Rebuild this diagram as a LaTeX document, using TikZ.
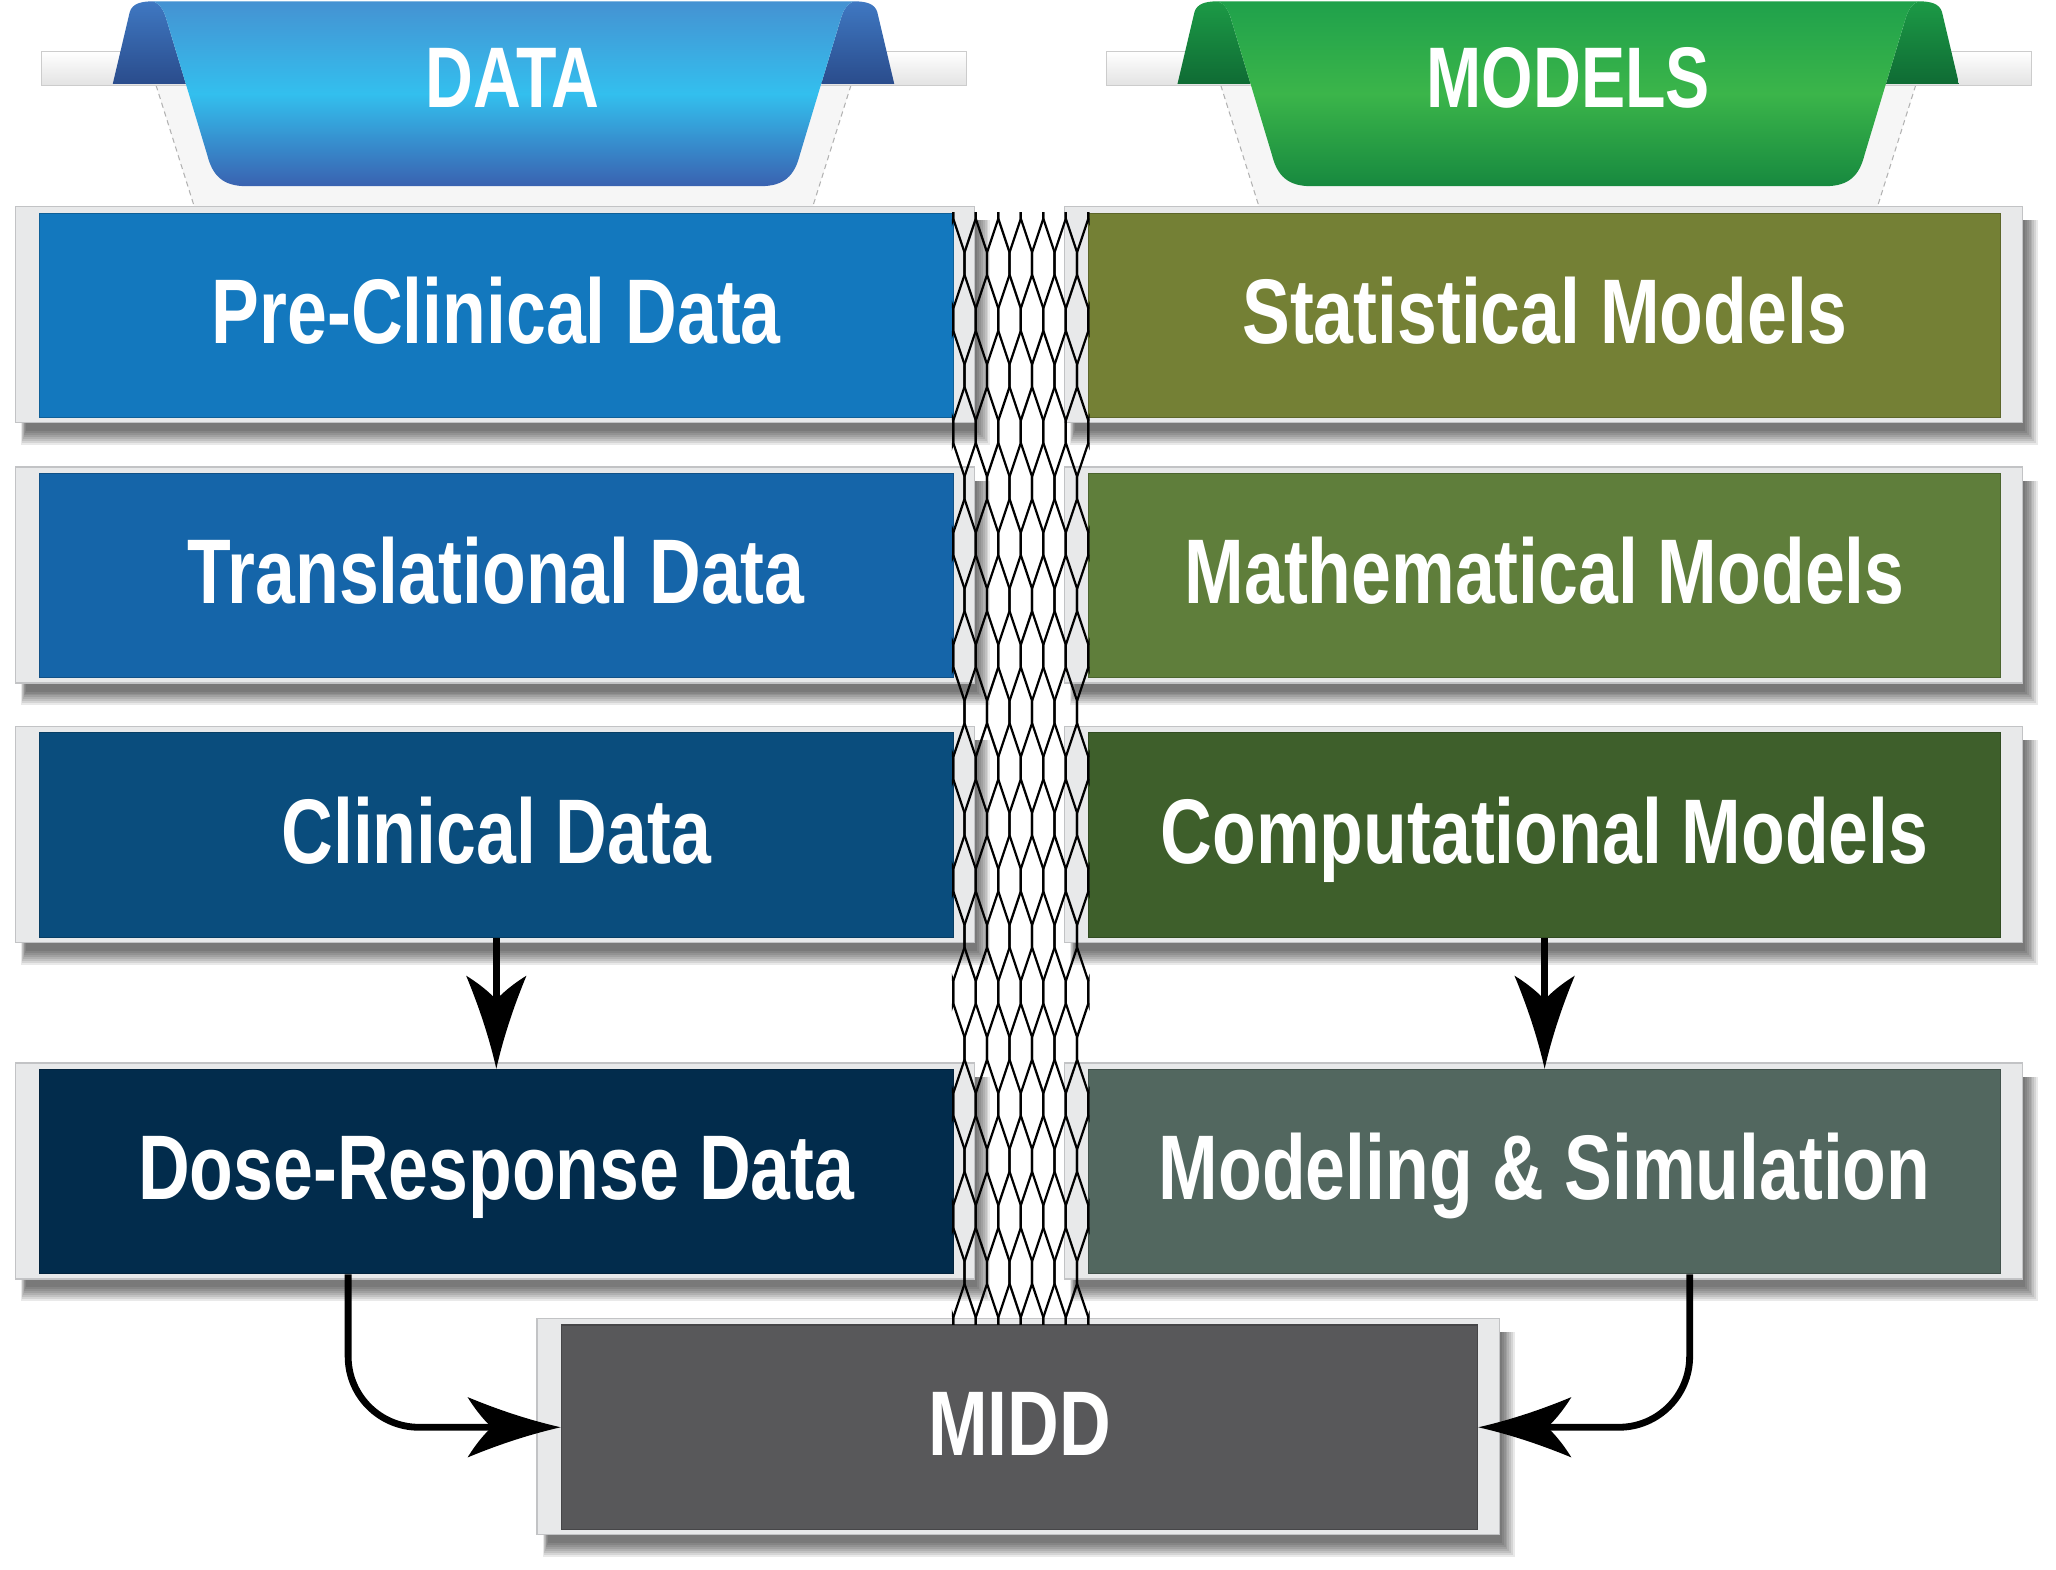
\documentclass[tikz,border=0pt]{standalone}
\usepackage{fontspec}
\newfontfamily\condfont[FakeStretch=0.78]{Liberation Sans}
\newfontfamily\bannerfont[FakeStretch=0.77]{Liberation Sans}
\usetikzlibrary{arrows.meta}
\pgfdeclarelayer{bglayer}
\pgfdeclarelayer{shadowlayer}
\pgfdeclarelayer{framelayer}
\pgfsetlayers{bglayer,shadowlayer,framelayer,main}

\definecolor{c1}{HTML}{1378BE}
\definecolor{c2}{HTML}{1565A9}
\definecolor{c3}{HTML}{0A4D7D}
\definecolor{c4}{HTML}{022C4C}
\definecolor{c5}{HTML}{748035}
\definecolor{c6}{HTML}{5F7E3B}
\definecolor{c7}{HTML}{3E5F2B}
\definecolor{c8}{HTML}{52675F}
\definecolor{cm}{HTML}{58585A}
\definecolor{framefill}{HTML}{E8E9EA}
\definecolor{frameline}{HTML}{C2C3C5}
\definecolor{bT}{HTML}{4592D2}
\definecolor{bM}{HTML}{33BFEE}
\definecolor{bB}{HTML}{3A62B0}
\definecolor{beT}{HTML}{3F78C2}
\definecolor{beB}{HTML}{2A4C8C}
\definecolor{gT}{HTML}{1FA14B}
\definecolor{gM}{HTML}{3BB54A}
\definecolor{gB}{HTML}{17893F}
\definecolor{geT}{HTML}{1C9A46}
\definecolor{geB}{HTML}{0F6B34}

\pgfdeclarearrow{
  name = Concave,
  parameters = {\the\pgfarrowlength,\the\pgfarrowwidth},
  setup code = {
    \pgfarrowssettipend{0pt}
    \pgfarrowssetlineend{-0.7\pgfarrowlength}
    \pgfarrowssetbackend{-\pgfarrowlength}
    \pgfarrowsupperhullpoint{-\pgfarrowlength}{0.5\pgfarrowwidth}
    \pgfarrowsupperhullpoint{0pt}{0pt}
    \pgfarrowssavethe\pgfarrowlength
    \pgfarrowssavethe\pgfarrowwidth
  },
  drawing code = {
    \pgfpathmoveto{\pgfpointorigin}
    \pgfpathcurveto{\pgfpoint{-0.4\pgfarrowlength}{0.14\pgfarrowwidth}}{\pgfpoint{-0.75\pgfarrowlength}{0.34\pgfarrowwidth}}{\pgfpoint{-\pgfarrowlength}{0.5\pgfarrowwidth}}
    \pgfpathcurveto{\pgfpoint{-0.9\pgfarrowlength}{0.25\pgfarrowwidth}}{\pgfpoint{-0.8\pgfarrowlength}{0.08\pgfarrowwidth}}{\pgfpoint{-0.74\pgfarrowlength}{0pt}}
    \pgfpathcurveto{\pgfpoint{-0.8\pgfarrowlength}{-0.08\pgfarrowwidth}}{\pgfpoint{-0.9\pgfarrowlength}{-0.25\pgfarrowwidth}}{\pgfpoint{-\pgfarrowlength}{-0.5\pgfarrowwidth}}
    \pgfpathcurveto{\pgfpoint{-0.75\pgfarrowlength}{-0.34\pgfarrowwidth}}{\pgfpoint{-0.4\pgfarrowlength}{-0.14\pgfarrowwidth}}{\pgfpointorigin}
    \pgfpathclose
    \pgfusepathqfill
  },
  defaults = {length = 35pt, width = 22pt}
}

\tikzset{
  box/.style={rectangle, minimum width=348.5pt, minimum height=78pt, inner sep=0pt,
    fill=#1, draw=#1!80!black, line width=0.4pt, text=white,
    font=\condfont\bfseries\fontsize{35}{40}\selectfont, text height=25pt, text depth=3.5pt},
  framebox/.style={fill=framefill, draw=frameline, line width=0.5pt},
  meshline/.style={black, line width=0.85pt, line join=round},
  arr/.style={draw=black, line width=2.6pt, -{Concave[length=35.5pt,width=23pt]}},
  bannertext/.style={text=white, inner sep=0pt,
    font=\bannerfont\bfseries\fontsize{32.8}{36}\selectfont, text height=23.5pt, text depth=0pt},
  shelf/.style={top color=white, bottom color=gray!22, draw=gray!40, line width=0.4pt},
  dashline/.style={gray!60, line width=0.4pt, dash pattern=on 2pt off 1.5pt},
}

\newcommand\mkframe[1]{%
  \begin{pgfonlayer}{framelayer}
    \draw[framebox] ([shift={(-9pt,2.25pt)}]#1.north west) rectangle ([shift={(8pt,-1.75pt)}]#1.south east);
  \end{pgfonlayer}
  \begin{pgfonlayer}{shadowlayer}
    \foreach \k in {0,...,7}{
      \fill[black,opacity=0.085] ([shift={({-5pt-0.25pt*\k},{-3pt})}]#1.north west) rectangle ([shift={({9pt+0.7pt*\k},{-5pt-0.75pt*\k})}]#1.south east);
    }
  \end{pgfonlayer}}

\newcommand\ribbon[5]{%
  \fill[gray!7] (119,65) -- (649,65) -- (620,157) -- (148,157) -- cycle;
  \draw[dashline] (119,65) -- (148,157);
  \draw[dashline] (649,65) -- (620,157);
  \shadedraw[shelf] (32,39) rectangle (737,65);
  \shade[top color=#4, bottom color=#5] (86,64) -- (99,9) .. controls (101,3) and (107,1) .. (117,1) .. controls (122,3) and (125,8) .. (127,15) -- (141.7,64) -- cycle;
  \shade[top color=#4, bottom color=#5] (682,64) -- (669,9) .. controls (667,3) and (661,1) .. (651,1) .. controls (646,3) and (643,8) .. (641,15) -- (626.3,64) -- cycle;
  \shade[top color=#1, bottom color=#3, middle color=#2] (117,1) -- (651,1) .. controls (646,3) and (643,8) .. (641,15) -- (610,118) .. controls (606,134) and (598,142) .. (580,142) -- (188,142) .. controls (170,142) and (162,134) .. (158,118) -- (127,15) .. controls (125,8) and (122,3) .. (117,1) -- cycle;
}

\begin{document}
\begin{tikzpicture}[x=0.5pt, y=-0.5pt]
\begin{pgfonlayer}{bglayer}
  \fill[white] (0,0) rectangle (1568,1197);
\end{pgfonlayer}
\useasboundingbox (0,0) rectangle (1568,1197);

% banners
\begin{scope}\ribbon{bT}{bM}{bB}{beT}{beB}\end{scope}
\begin{scope}[shift={(812,0)}]\ribbon{gT}{gM}{gB}{geT}{geB}\end{scope}
\node[bannertext] (tdata) at (391,58.5) {DATA};
\node[bannertext] (tmodels) at (1196,58.5) {MODELS};

% boxes
\node[box=c1] (b1) at (378.5,240.5) {Pre-Clinical Data};
\node[box=c2] (b2) at (378.5,439) {Translational Data};
\node[box=c3] (b3) at (378.5,637) {Clinical Data};
\node[box=c4] (b4) at (378.5,893.5) {Dose-Response Data};
\node[box=c5, minimum width=348pt] (b5) at (1178,240.5) {Statistical Models};
\node[box=c6, minimum width=348pt] (b6) at (1178,439) {Mathematical Models};
\node[box=c7, minimum width=348pt] (b7) at (1178,637) {Computational Models};
\node[box=c8, minimum width=348pt] (b8) at (1178,893.5) {Modeling \& Simulation};
\node[box=cm, minimum width=349.5pt] (midd) at (777.5,1088.5) {MIDD};

\mkframe{b1}\mkframe{b2}\mkframe{b3}\mkframe{b4}
\mkframe{b5}\mkframe{b6}\mkframe{b7}\mkframe{b8}
\mkframe{midd}

% mesh
\begin{scope}
  \clip (726,162) rectangle (831,1010);
  \foreach \j in {0,...,6}{
    \foreach \s in {-1,1}{
      \draw[meshline] ({727+17.17*\j},80)
        \foreach \k in {-1,...,10}{
          -- ({727+17.17*\j+\s*8.585},{201+85.5*\k-8.5})
          -- ({727+17.17*\j+\s*8.585},{201+85.5*\k+8.5})
          -- ({727+17.17*\j},{243.75+85.5*\k-8.5})
          -- ({727+17.17*\j},{243.75+85.5*\k+8.5})
        };
    }
  }
\end{scope}

% arrows
\draw[arr] (b3.south) -- (b4.north);
\draw[arr] (b7.south) -- (b8.north);
\draw[arr, rounded corners=27pt] ([xshift=-56.5pt]b4.south) |- (midd.west);
\draw[arr, rounded corners=27pt] ([xshift=55.3pt]b8.south) |- (midd.east);
\end{tikzpicture}
\end{document}
